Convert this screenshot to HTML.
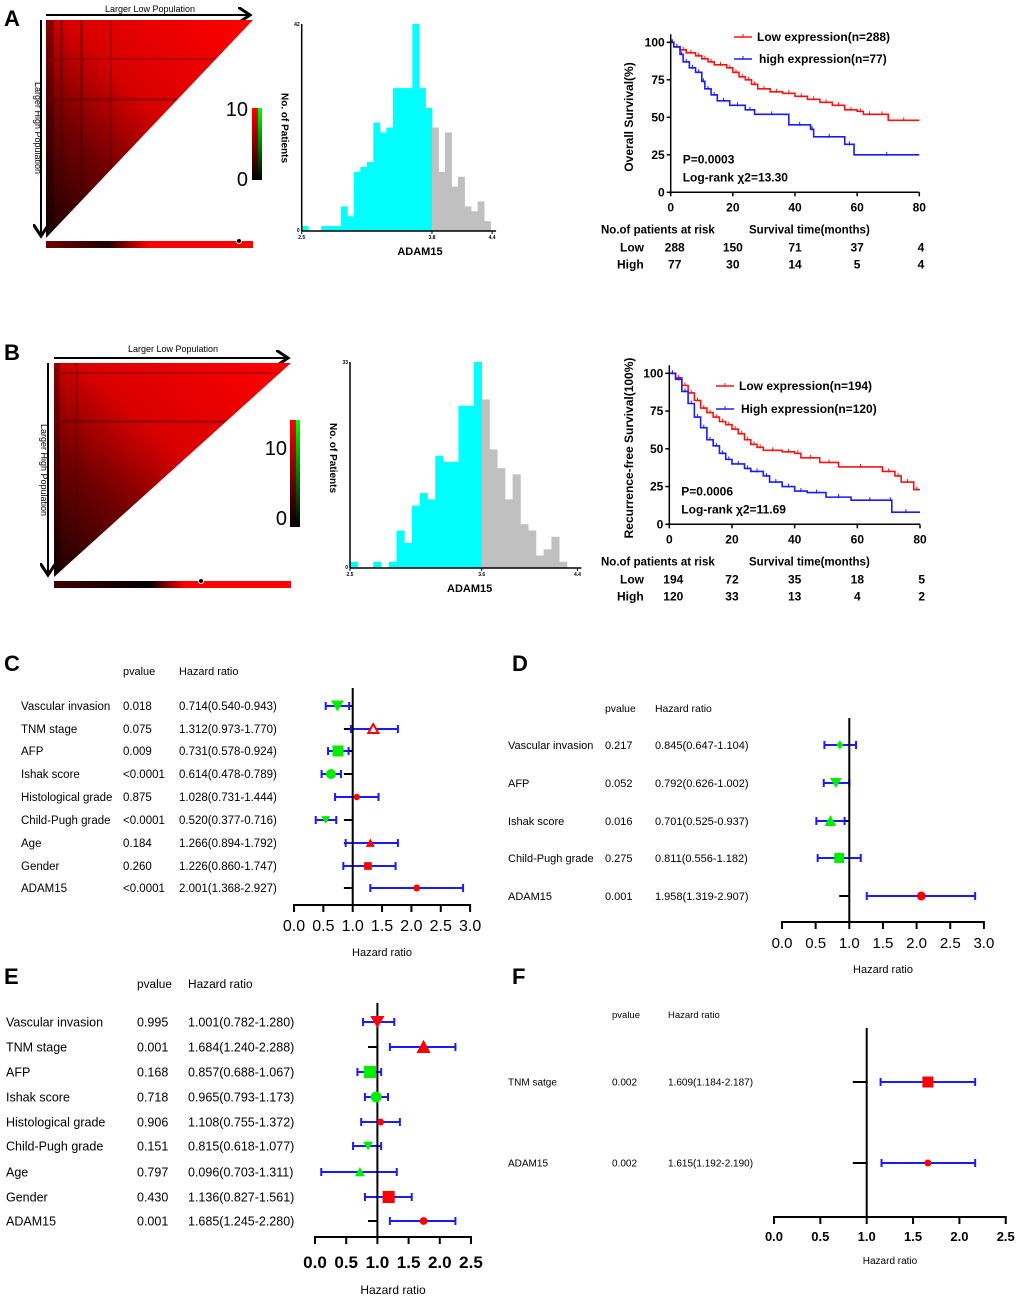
<!DOCTYPE html>
<html><head><meta charset="utf-8"><style>
body{margin:0;background:#fff}
svg{display:block;font-family:"Liberation Sans",Arial,sans-serif}
</style></head><body>
<svg id="fig" width="1020" height="1300" viewBox="0 0 1020 1300" xmlns="http://www.w3.org/2000/svg">
<defs>
<linearGradient id="hmA" x1="0" y1="1" x2="1" y2="0">
<stop offset="0" stop-color="#1a0000"/><stop offset="0.3" stop-color="#700000"/><stop offset="0.55" stop-color="#d80000"/><stop offset="1" stop-color="#ff0000"/></linearGradient>
<linearGradient id="cbar" x1="0" y1="1" x2="0" y2="0"><stop offset="0" stop-color="#000"/><stop offset="1" stop-color="#ff0000"/></linearGradient>
<linearGradient id="cbarG" x1="0" y1="1" x2="0" y2="0"><stop offset="0" stop-color="#000"/><stop offset="1" stop-color="#00ff00"/></linearGradient>
<linearGradient id="barA" x1="0" y1="0" x2="1" y2="0"><stop offset="0" stop-color="#700000"/><stop offset="0.3" stop-color="#200000"/><stop offset="0.5" stop-color="#ff0000"/><stop offset="1" stop-color="#ff0000"/></linearGradient>
<linearGradient id="barB" x1="0" y1="0" x2="1" y2="0"><stop offset="0" stop-color="#400000"/><stop offset="0.4" stop-color="#000"/><stop offset="0.55" stop-color="#ff0000"/><stop offset="1" stop-color="#ff0000"/></linearGradient>
<clipPath id="triA"><polygon points="46,20 253,20 46,238"/></clipPath>
<clipPath id="triB"><polygon points="54,363 291,363 54,577"/></clipPath>
<marker id="arr" markerWidth="8" markerHeight="8" refX="6" refY="4" orient="auto"><path d="M0,0 L6,4 L0,8" fill="none" stroke="#000" stroke-width="1.5"/></marker>
</defs>
<g font-weight="bold" font-size="22">
<text x="4" y="26">A</text>
<text x="4" y="360">B</text>
<text x="4" y="671">C</text>
<text x="512" y="671">D</text>
<text x="4" y="984">E</text>
<text x="512" y="984">F</text>
</g>
<g>
<line x1="46" y1="15" x2="250" y2="15" stroke="#000" stroke-width="2" marker-end="url(#arr)"/>
<text x="150" y="12" font-size="9" text-anchor="middle">Larger Low Population</text>
<line x1="41" y1="20" x2="41" y2="236" stroke="#000" stroke-width="2" marker-end="url(#arr)"/>
<text transform="translate(35,128) rotate(90)" font-size="9" text-anchor="middle">Larger High Population</text>
<polygon points="46,20 253,20 46,238" fill="url(#hmA)"/>
<g clip-path="url(#triA)" opacity="0.3">
<rect x="46" y="20" width="8" height="220" fill="#000"/><rect x="60" y="20" width="3" height="220" fill="#300"/>
<rect x="80" y="20" width="3" height="220" fill="#300"/><rect x="110" y="20" width="2" height="220" fill="#300"/>
<rect x="46" y="58" width="210" height="2" fill="#400"/><rect x="46" y="98" width="210" height="3" fill="#300"/>
</g>
<rect x="46" y="241" width="207" height="7" fill="url(#barA)"/>
<circle cx="239" cy="241" r="2.5" fill="#000" stroke="#fff" stroke-width="1"/>
<rect x="252" y="108" width="7" height="72" fill="url(#cbar)"/>
<rect x="258" y="108" width="4" height="72" fill="url(#cbarG)"/>
<text x="248" y="116" font-size="20" text-anchor="end">10</text>
<text x="248" y="186" font-size="20" text-anchor="end">0</text>
</g>
<g>
<line x1="54" y1="358" x2="288" y2="358" stroke="#000" stroke-width="2" marker-end="url(#arr)"/>
<text x="173" y="352" font-size="9" text-anchor="middle">Larger Low Population</text>
<line x1="48" y1="363" x2="48" y2="575" stroke="#000" stroke-width="2" marker-end="url(#arr)"/>
<text transform="translate(41,470) rotate(90)" font-size="9" text-anchor="middle">Larger High Population</text>
<polygon points="54,363 291,363 54,577" fill="url(#hmA)"/>
<g clip-path="url(#triB)" opacity="0.3">
<rect x="54" y="363" width="6" height="220" fill="#000"/><rect x="75" y="363" width="3" height="220" fill="#300"/>
<rect x="54" y="372" width="240" height="2" fill="#300"/><rect x="54" y="420" width="240" height="3" fill="#300"/>
</g>
<rect x="54" y="581" width="237" height="7" fill="url(#barB)"/>
<circle cx="201" cy="581" r="2.5" fill="#000" stroke="#fff" stroke-width="1"/>
<rect x="290" y="420" width="7" height="107" fill="url(#cbar)"/>
<rect x="296" y="420" width="4" height="107" fill="url(#cbarG)"/>
<text x="287" y="455" font-size="20" text-anchor="end">10</text>
<text x="287" y="525" font-size="20" text-anchor="end">0</text>
</g>
<g id="histA"></g>
<g id="histB"></g>
<g id="kmA"></g>
<g id="kmB"></g>
<g id="forC"></g>
<g id="forD"></g>
<g id="forE"></g>
<g id="forF"></g>
</svg>
<script>
const histACyan = [1,0,0,1,1,1,5,3,12,13,14,22,20,21,29,29,29,42,29,25];
const histAGray = [21,12,20,9,11,5,4,6,2];
const histATicks = ["2.5","3.8","4.4"];
const histATickVals = [2.5,3.8,4.4];
const histAMax = 42;
const histBCyan = [1,0,0,1,0,1,6,4,10,12,11,18,17,17,26,26,33];
const histBGray = [27,19,16,11,15,7,6,2,3,5,1];
const histBTicks = ["2.5","3.6","4.4"];
const histBTickVals = [2.5,3.6,4.4];
const histBMax = 33;

const kmALowT = [0,1,3,5,8,10,12,14,18,20,22,24,26,28,32,36,40,44,48,52,56,60,62,66,70,80];
const kmALowS = [100,97,95,93,91,89,87,85,83,80,77,75,72,69,67,66,64,62,60,58,55,54,52,52,48,48];
const kmAHighT = [0,1,3,4,6,8,10,11,13,15,19,24,27,38,45,46,56,59,80];
const kmAHighS = [100,97,92,87,83,80,74,69,65,61,58,55,52,45,42,37,32,25,25];
const kmBLowT = [0,2,4,6,8,10,12,14,16,18,20,22,24,26,28,30,36,40,42,48,54,68,72,74,78,80];
const kmBLowS = [100,97,92,87,82,77,74,71,68,66,63,60,56,53,51,49,48,47,44,41,38,35,32,28,23,23];
const kmBHighT = [0,2,4,6,8,10,12,14,16,18,20,24,26,30,32,36,40,44,50,58,70,71,80];
const kmBHighS = [100,96,88,80,71,64,56,52,47,43,40,37,35,32,28,25,22,21,18,16,16,8,8];
const kmYTicks = [0,25,50,75,100];
const kmXTicks = [0,20,40,60,80];
const riskALow = ["288","150","71","37","4"];
const riskAHigh = ["77","30","14","5","4"];
const riskBLow = ["194","72","35","18","5"];
const riskBHigh = ["120","33","13","4","2"];

const fCLabels = ["Vascular invasion","TNM stage","AFP","Ishak score","Histological grade","Child-Pugh grade","Age","Gender","ADAM15"];
const fCP = ["0.018","0.075","0.009","<0.0001","0.875","<0.0001","0.184","0.260","<0.0001"];
const fCHR = ["0.714(0.540-0.943)","1.312(0.973-1.770)","0.731(0.578-0.924)","0.614(0.478-0.789)","1.028(0.731-1.444)","0.520(0.377-0.716)","1.266(0.894-1.792)","1.226(0.860-1.747)","2.001(1.368-2.927)"];
const fCEst = [0.74,1.35,0.75,0.63,1.07,0.54,1.30,1.26,2.09];
const fCLo = [0.54,0.97,0.58,0.47,0.70,0.37,0.88,0.84,1.30];
const fCHi = [0.94,1.77,0.93,0.80,1.44,0.72,1.77,1.73,2.88];
const fCShape = ["tdown","tup-open","square","circle","dot","tdown-s","tup-s","square-s","circle-s"];
const fCColor = ["#00ee00","#ff0000","#00ee00","#00ee00","#ff0000","#00ee00","#ff0000","#ff0000","#ff0000"];
const fCTicks = [0,0.5,1,1.5,2,2.5,3];

const fDLabels = ["Vascular invasion","AFP","Ishak score","Child-Pugh grade","ADAM15"];
const fDP = ["0.217","0.052","0.016","0.275","0.001"];
const fDHR = ["0.845(0.647-1.104)","0.792(0.626-1.002)","0.701(0.525-0.937)","0.811(0.556-1.182)","1.958(1.319-2.907)"];
const fDEst = [0.86,0.80,0.72,0.85,2.07];
const fDLo = [0.63,0.62,0.51,0.53,1.26];
const fDHi = [1.10,1.00,0.93,1.17,2.87];
const fDShape = ["diamond","tdown","tup","square","circle"];
const fDColor = ["#00ee00","#00ee00","#00ee00","#00ee00","#ff0000"];
const fDTicks = [0,0.5,1,1.5,2,2.5,3];

const fELabels = ["Vascular invasion","TNM stage","AFP","Ishak score","Histological grade","Child-Pugh grade","Age","Gender","ADAM15"];
const fEP = ["0.995","0.001","0.168","0.718","0.906","0.151","0.797","0.430","0.001"];
const fEHR = ["1.001(0.782-1.280)","1.684(1.240-2.288)","0.857(0.688-1.067)","0.965(0.793-1.173)","1.108(0.755-1.372)","0.815(0.618-1.077)","0.096(0.703-1.311)","1.136(0.827-1.561)","1.685(1.245-2.280)"];
const fEEst = [1.00,1.74,0.88,0.98,1.05,0.85,0.72,1.18,1.74];
const fELo = [0.77,1.20,0.68,0.80,0.74,0.61,0.10,0.80,1.20];
const fEHi = [1.27,2.25,1.06,1.17,1.36,1.06,1.31,1.55,2.25];
const fEShape = ["tdown","tup","square","circle","dot","tdown-s","tup-s","square","circle-s"];
const fEColor = ["#ff0000","#ff0000","#00ee00","#00ee00","#ff0000","#00ee00","#00ee00","#ff0000","#ff0000"];
const fETicks = [0,0.5,1,1.5,2,2.5];

const fFLabels = ["TNM satge","ADAM15"];
const fFP = ["0.002","0.002"];
const fFHR = ["1.609(1.184-2.187)","1.615(1.192-2.190)"];
const fFEst = [1.66,1.66];
const fFLo = [1.15,1.16];
const fFHi = [2.17,2.17];
const fFShape = ["square","circle-s"];
const fFColor = ["#ff0000","#ff0000"];
const fFTicks = [0,0.5,1,1.5,2,2.5];

const NS = "http://www.w3.org/2000/svg";
function mk(parent, tag, attrs, txt){
  const e = document.createElementNS(NS, tag);
  for (const k in attrs) e.setAttribute(k, attrs[k]);
  if (txt !== undefined) e.textContent = txt;
  parent.appendChild(e);
  return e;
}

function drawHist(g, cfg, cyan, gray, tickLabels, tickVals, maxV){
  const sx = v => cfg.x0 + (v - cfg.v0) * cfg.pxPerUnit;
  const sy = c => cfg.yb - c / maxV * (cfg.yb - cfg.yt);
  cyan.forEach((c,i) => {
    if (!c) return;
    const r = mk(g, "rect", {x: sx(cfg.v0 + i*cfg.w), y: sy(c), width: cfg.w*cfg.pxPerUnit+0.4, height: cfg.yb - sy(c), fill: "#00ffff"});
    
    
  });
  gray.forEach((c,i) => {
    if (!c) return;
    const r = mk(g, "rect", {x: sx(cfg.cut + i*cfg.w), y: sy(c), width: cfg.w*cfg.pxPerUnit+0.4, height: cfg.yb - sy(c), fill: "#c0c0c0"});
    
    
  });
  mk(g, "line", {x1: cfg.x0, y1: cfg.yt, x2: cfg.x0, y2: cfg.yb, stroke: "#000", "stroke-width": 1.5});
  mk(g, "line", {x1: cfg.x0, y1: cfg.yb, x2: sx(tickVals[2])+4, y2: cfg.yb, stroke: "#000", "stroke-width": 1.5});
  tickVals.forEach((v,i) => {
    mk(g, "line", {x1: sx(v), y1: cfg.yb, x2: sx(v), y2: cfg.yb+3, stroke: "#000"});
    const t = mk(g, "text", {x: sx(v), y: cfg.yb+8, "font-size": 5, "font-weight": "bold", "text-anchor": "middle"}, tickLabels[i]);
    
    
  });
  mk(g, "text", {x: cfg.x0-2, y: cfg.yt+2, "font-size": 5, "font-weight": "bold", "text-anchor": "end"}, String(maxV));
  mk(g, "text", {x: cfg.x0-2, y: cfg.yb+1, "font-size": 5, "font-weight": "bold", "text-anchor": "end"}, "0");
  const xt = mk(g, "text", {x: sx(cfg.cut)-12, y: cfg.yb+24, "font-size": 11, "font-weight": "bold", "text-anchor": "middle"}, "ADAM15");
  
  
  const yt = mk(g, "text", {transform: `translate(${cfg.x0-20},${cfg.ylc}) rotate(90)`, "font-size": 10, "font-weight": "bold", "text-anchor": "middle"}, "No. of Patients");
  
  
}
drawHist(document.getElementById("histA"), {x0:301.7, v0:2.5, pxPerUnit:100.2, w:0.065, cut:3.8, yb:231, yt:24, ylc:128}, histACyan, histAGray, histATicks, histATickVals, histAMax);
drawHist(document.getElementById("histB"), {x0:350, v0:2.5, pxPerUnit:119.7, w:0.0647, cut:3.6, yb:568, yt:362, ylc:458}, histBCyan, histBGray, histBTicks, histBTickVals, histBMax);

function drawKM(g, cfg, lowT, lowS, highT, highS, rLow, rHigh){
  const sx = t => cfg.x0 + t / 80 * (cfg.x1 - cfg.x0);
  const sy = s => cfg.y0 - s / 100 * (cfg.y0 - cfg.y100);
  function curve(T, S, color, name){
    let d = `M${sx(T[0])},${sy(S[0])}`;
    for (let i = 1; i < T.length; i++) d += ` H${sx(T[i])} V${sy(S[i])}`;
    const p = mk(g, "path", {d: d, fill: "none", stroke: color, "stroke-width": 1.6});
    
    
    for (let i = 1; i < T.length; i++) {
      const tm = (T[i-1] + T[i]) / 2;
      mk(g, "line", {x1: sx(tm), y1: sy(S[i-1])-3, x2: sx(tm), y2: sy(S[i-1])+1, stroke: color, "stroke-width": 1});
    }
  }
  curve(lowT, lowS, "#ff1010", "km-low-curve");
  curve(highT, highS, "#1a1aff", "km-high-curve");
  mk(g, "line", {x1: cfg.x0, y1: cfg.y100-8, x2: cfg.x0, y2: cfg.y0, stroke: "#000", "stroke-width": 1.5});
  mk(g, "line", {x1: cfg.x0, y1: cfg.y0, x2: cfg.x1, y2: cfg.y0, stroke: "#000", "stroke-width": 1.5});
  kmYTicks.forEach(v => {
    mk(g, "line", {x1: cfg.x0-4, y1: sy(v), x2: cfg.x0, y2: sy(v), stroke: "#000", "stroke-width": 1.5});
    const t = mk(g, "text", {x: cfg.x0-6, y: sy(v)+4, "font-size": 12, "font-weight": "bold", "text-anchor": "end"}, String(v));
    
    
  });
  kmXTicks.forEach((v,i) => {
    mk(g, "line", {x1: sx(v), y1: cfg.y0, x2: sx(v), y2: cfg.y0+4, stroke: "#000", "stroke-width": 1.5});
    const t = mk(g, "text", {x: sx(v), y: cfg.y0+19, "font-size": 12, "font-weight": "bold", "text-anchor": "middle"}, String(v));
    
    
    const xx = sx(v)+(i==4?5:(i==0?4:0));
    const anc = i==4?"end":"middle";
    const lo = mk(g, "text", {x: xx, y: cfg.y0+59, "font-size": 12, "font-weight": "bold", "text-anchor": anc}, rLow[i]);
    
    
    const hi = mk(g, "text", {x: xx, y: cfg.y0+76, "font-size": 12, "font-weight": "bold", "text-anchor": anc}, rHigh[i]);
    
    
  });
  mk(g, "text", {x: 601, y: cfg.y0+41, "font-size": 11.5, "font-weight": "bold"}, "No.of patients at risk");
  mk(g, "text", {x: 749, y: cfg.y0+41, "font-size": 11.5, "font-weight": "bold"}, "Survival time(months)");
  mk(g, "text", {x: 620, y: cfg.y0+59, "font-size": 12, "font-weight": "bold"}, "Low");
  mk(g, "text", {x: 617, y: cfg.y0+76, "font-size": 12, "font-weight": "bold"}, "High");
  const yt = mk(g, "text", {transform: `translate(${cfg.ytx},${cfg.yty}) rotate(-90)`, "font-size": 12, "font-weight": "bold", "text-anchor": "middle"}, cfg.ytitle);
  
  
  mk(g, "line", {x1: cfg.lx, y1: cfg.ly1, x2: cfg.lx+18, y2: cfg.ly1, stroke: "#ff1010", "stroke-width": 1.6});
  mk(g, "line", {x1: cfg.lx+9, y1: cfg.ly1-3, x2: cfg.lx+9, y2: cfg.ly1, stroke: "#ff1010"});
  mk(g, "line", {x1: cfg.lx, y1: cfg.ly2, x2: cfg.lx+18, y2: cfg.ly2, stroke: "#1a1aff", "stroke-width": 1.6});
  mk(g, "line", {x1: cfg.lx+9, y1: cfg.ly2-3, x2: cfg.lx+9, y2: cfg.ly2, stroke: "#1a1aff"});
  const l1 = mk(g, "text", {x: cfg.lx+23, y: cfg.ly1+4, "font-size": 12, "font-weight": "bold"}, cfg.leg1);
  
  
  const l2 = mk(g, "text", {x: cfg.lx+25, y: cfg.ly2+4, "font-size": 12, "font-weight": "bold"}, cfg.leg2);
  
  
  mk(g, "text", {x: cfg.x0+12, y: cfg.y0-29, "font-size": 12, "font-weight": "bold"}, cfg.p);
  mk(g, "text", {x: cfg.x0+12, y: cfg.y0-11, "font-size": 12, "font-weight": "bold"}, "Log-rank \u03c72=" + cfg.chi);
}
drawKM(document.getElementById("kmA"), {x0:670.7, x1:919.3, y0:192.3, y100:42.3, ytx:633, yty:117, ytitle:"Overall Survival(%)", lx:734, ly1:37, ly2:59, leg1:"Low expression(n=288)", leg2:"high expression(n=77)", p:"P=0.0003", chi:"13.30"}, kmALowT, kmALowS, kmAHighT, kmAHighS, riskALow, riskAHigh);
drawKM(document.getElementById("kmB"), {x0:669.3, x1:920, y0:524.3, y100:373.3, ytx:633, yty:448, ytitle:"Recurrence-free Survival(100%)", lx:716, ly1:386, ly2:409, leg1:"Low expression(n=194)", leg2:"High expression(n=120)", p:"P=0.0006", chi:"11.69"}, kmBLowT, kmBLowS, kmBHighT, kmBHighS, riskBLow, riskBHigh);

function marker(g, shape, cx, cy, color, sc){
  let s = sc, small = false;
  if (shape.endsWith("-s")) { small = true; shape = shape.slice(0,-2); }
  if (small) s = sc*0.7;
  let e;
  if (shape === "circle") e = mk(g, "circle", {cx: cx, cy: cy, r: 5*s, fill: color});
  else if (shape === "dot") e = mk(g, "circle", {cx: cx, cy: cy, r: 3.2*s, fill: color});
  else if (shape === "square") e = mk(g, "rect", {x: cx-5.5*s, y: cy-5.5*s, width: 11*s, height: 11*s, fill: color});
  else if (shape === "tdown") e = mk(g, "polygon", {points: `${cx-6.5*s},${cy-5.5*s} ${cx+6.5*s},${cy-5.5*s} ${cx},${cy+5.5*s}`, fill: color});
  else if (shape === "tup") e = mk(g, "polygon", {points: `${cx-6.5*s},${cy+5.5*s} ${cx+6.5*s},${cy+5.5*s} ${cx},${cy-6.5*s}`, fill: color});
  else if (shape === "tup-open") e = mk(g, "polygon", {points: `${cx-5*s},${cy+4*s} ${cx+5*s},${cy+4*s} ${cx},${cy-5*s}`, fill: "#fff", stroke: color, "stroke-width": 2});
  else if (shape === "diamond") e = mk(g, "polygon", {points: `${cx},${cy-5*s} ${cx+4*s},${cy} ${cx},${cy+5*s} ${cx-4*s},${cy}`, fill: color});
  
  
}
function drawForest(g, c, labels, pv, hr, est, lo, hi, shape, color, ticks){
  const sx = v => c.x0 + v * c.ppu;
  const fs = c.fs;
  mk(g, "text", {x: c.px, y: c.hy, "font-size": fs*0.95}, "pvalue");
  mk(g, "text", {x: c.hx, y: c.hy, "font-size": fs*0.95}, "Hazard ratio");
  labels.forEach((lab,i) => {
    const y = c.rows[i];
    const t1 = mk(g, "text", {x: c.lx, y: y+fs*0.36, "font-size": fs}, lab);
    
    
    mk(g, "text", {x: c.px, y: y+fs*0.36, "font-size": fs}, pv[i]);
    mk(g, "text", {x: c.hx, y: y+fs*0.36, "font-size": fs}, hr[i]);
    mk(g, "line", {x1: sx(1)-c.ppu*0.15, y1: y, x2: sx(1), y2: y, stroke: "#000", "stroke-width": 2});
    const ci = mk(g, "line", {x1: sx(lo[i]), y1: y, x2: sx(hi[i]), y2: y, stroke: "#1a1aff", "stroke-width": 2});
    
    
    mk(g, "line", {x1: sx(lo[i]), y1: y-4, x2: sx(lo[i]), y2: y+4, stroke: "#1a1aff", "stroke-width": 2});
    mk(g, "line", {x1: sx(hi[i]), y1: y-4, x2: sx(hi[i]), y2: y+4, stroke: "#1a1aff", "stroke-width": 2});
  });
  mk(g, "line", {x1: sx(1), y1: c.vt, x2: sx(1), y2: c.ay, stroke: "#000", "stroke-width": 2});
  labels.forEach((lab,i) => marker(g, shape[i], sx(est[i]), c.rows[i], color[i], c.ms));
  mk(g, "line", {x1: sx(ticks[0]), y1: c.ay, x2: sx(ticks[ticks.length-1]), y2: c.ay, stroke: "#000", "stroke-width": 2});
  ticks.forEach(v => {
    mk(g, "line", {x1: sx(v), y1: c.ay-1, x2: sx(v), y2: c.ay+7, stroke: "#000", "stroke-width": 2});
    const t = mk(g, "text", {x: sx(v), y: c.ty, "font-size": c.tfs, "font-weight": c.tbold ? "bold" : "normal", "text-anchor": "middle"}, v.toFixed(1));
    
    
  });
  const xt = mk(g, "text", {x: c.tx, y: c.tty, "font-size": c.ttfs, "text-anchor": "middle"}, "Hazard ratio");
  
  
}
drawForest(document.getElementById("forC"), {x0:294, ppu:58.7, fs:11.5, lx:21, px:123, hx:179, hy:675, rows:[706,729,751,774,797,820,843,866,888], vt:688, ay:905, ty:931, tfs:16, tbold:false, tx:382, tty:956, ttfs:11, ms:1},
  fCLabels, fCP, fCHR, fCEst, fCLo, fCHi, fCShape, fCColor, fCTicks);
drawForest(document.getElementById("forD"), {x0:782, ppu:67.3, fs:11, lx:508, px:605, hx:655, hy:712, rows:[745,783,821,858,896], vt:718, ay:922, ty:948, tfs:15, tbold:false, tx:883, tty:973, ttfs:11, ms:0.9},
  fDLabels, fDP, fDHR, fDEst, fDLo, fDHi, fDShape, fDColor, fDTicks);
drawForest(document.getElementById("forE"), {x0:315, ppu:62.4, fs:12.5, lx:6, px:137, hx:188, hy:988, rows:[1022,1047,1072,1097,1122,1146,1172,1197,1221], vt:1003, ay:1237, ty:1268, tfs:17, tbold:true, tx:393, tty:1294, ttfs:12, ms:1.1},
  fELabels, fEP, fEHR, fEEst, fELo, fEHi, fEShape, fEColor, fETicks);
drawForest(document.getElementById("forF"), {x0:774, ppu:92.7, fs:10, lx:508, px:612, hx:668, hy:1018, rows:[1082,1163], vt:1028, ay:1217, ty:1241, tfs:13, tbold:true, tx:890, tty:1264, ttfs:10, ms:1},
  fFLabels, fFP, fFHR, fFEst, fFLo, fFHi, fFShape, fFColor, fFTicks);
</script>
</body></html>
